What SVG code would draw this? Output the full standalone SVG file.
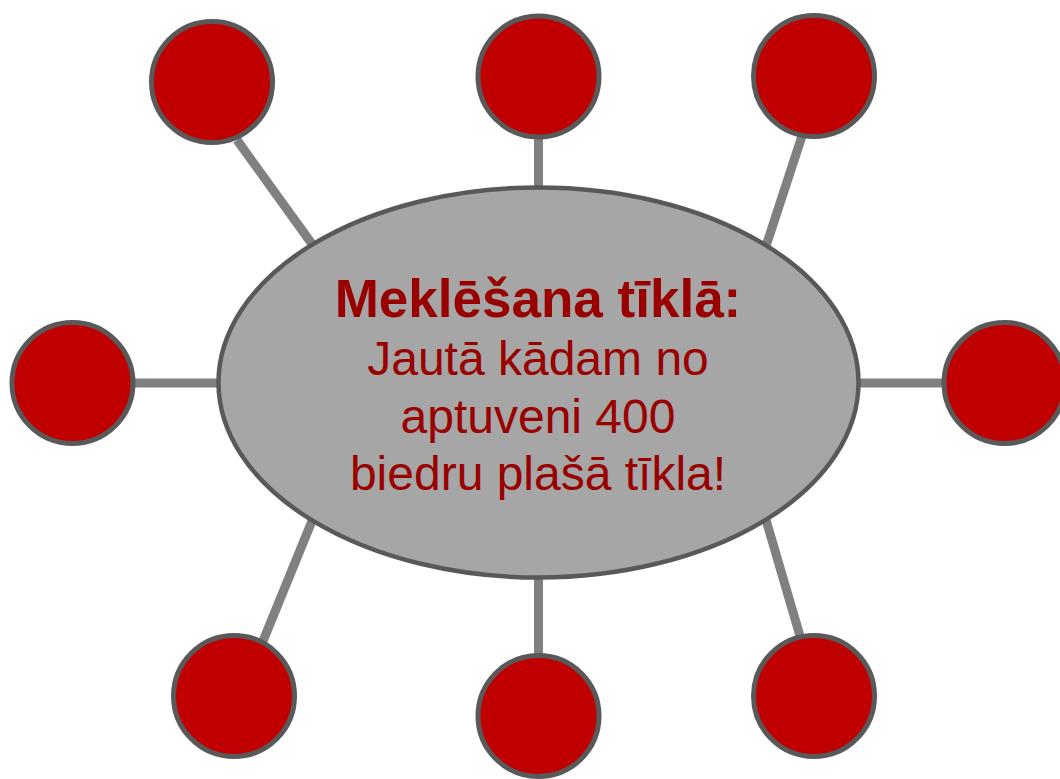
<svg xmlns="http://www.w3.org/2000/svg" width="1060" height="779" viewBox="0 0 1060 779">
<style>
.conn{stroke:#808080;stroke-width:9;fill:none}
.leaf{fill:#C00000;stroke:#595959;stroke-width:5}
.hub{fill:#A6A6A6;stroke:#595959;stroke-width:4.5}
.t{font-family:"Liberation Sans",Arial,sans-serif;fill:#990000;text-anchor:middle}
.b{font-weight:bold;font-size:53px}
.r{font-size:48px}
</style>
<rect width="1060" height="779" fill="#fff"/>
<g id="connectors">
<line class="conn" x1="237" y1="140" x2="312" y2="244"/>
<line class="conn" x1="538.5" y1="139" x2="538.5" y2="188"/>
<line class="conn" x1="802" y1="136" x2="766" y2="246"/>
<line class="conn" x1="134" y1="383" x2="218" y2="383"/>
<line class="conn" x1="859" y1="383" x2="943" y2="383"/>
<line class="conn" x1="263" y1="641" x2="312" y2="521"/>
<line class="conn" x1="538.5" y1="577" x2="538.5" y2="655"/>
<line class="conn" x1="800" y1="636" x2="766" y2="520"/>
</g>
<g id="hub">
<ellipse class="hub" cx="538.5" cy="382.5" rx="320" ry="195"/>
<text class="t b" x="538" y="317">Meklēšana tīklā:</text>
<text class="t r" x="538" y="375">Jautā kādam no</text>
<text class="t r" x="538" y="433">aptuveni 400</text>
<text class="t r" x="538" y="490">biedru plašā tīkla!</text>
</g>
<g id="n1"><circle class="leaf" cx="212" cy="82" r="60.5"/></g>
<g id="n2"><circle class="leaf" cx="538.5" cy="76.5" r="60.5"/></g>
<g id="n3"><circle class="leaf" cx="814" cy="76" r="60.5"/></g>
<g id="n4"><circle class="leaf" cx="72.5" cy="383" r="60.5"/></g>
<g id="n5"><circle class="leaf" cx="1004.5" cy="383" r="60.5"/></g>
<g id="n6"><circle class="leaf" cx="234" cy="696" r="60.5"/></g>
<g id="n7"><circle class="leaf" cx="538.5" cy="716" r="60.5"/></g>
<g id="n8"><circle class="leaf" cx="814" cy="696" r="60.5"/></g>
</svg>
